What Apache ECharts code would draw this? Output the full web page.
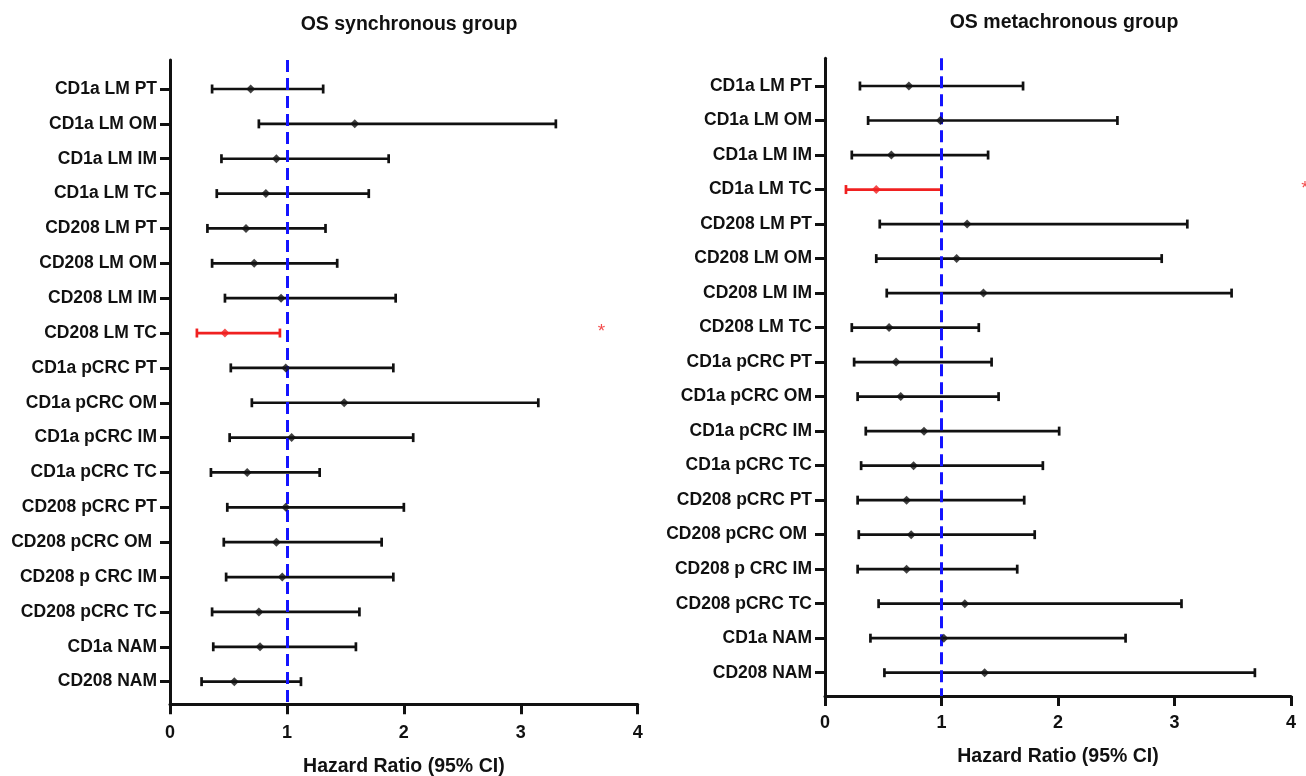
<!DOCTYPE html>
<html>
<head>
<meta charset="utf-8">
<script src="https://cdn.jsdelivr.net/npm/echarts@6/dist/echarts.min.js"></script>
<style>
  html, body { margin: 0; padding: 0; background: #fff; }
  #chart { width: 1306px; height: 776px; }
</style>
</head>
<body>
<div id="chart"></div>
<script>
// ---- data ----
const categories = ['CD1a LM PT','CD1a LM OM','CD1a LM IM','CD1a LM TC','CD208 LM PT','CD208 LM OM','CD208 LM IM','CD208 LM TC','CD1a pCRC PT','CD1a pCRC OM','CD1a pCRC IM','CD1a pCRC TC','CD208 pCRC PT','CD208 pCRC OM ','CD208 p CRC IM','CD208 pCRC TC','CD1a NAM','CD208 NAM'];
const xTicks = [0, 1, 2, 3, 4];

const syncHR   = [0.69,1.58,0.91,0.82,0.65,0.72,0.95,0.47,0.99,1.49,1.04,0.66,0.99,0.91,0.96,0.76,0.77,0.55];
const syncLow  = [0.36,0.76,0.44,0.40,0.32,0.36,0.47,0.23,0.52,0.70,0.51,0.35,0.49,0.46,0.48,0.36,0.37,0.27];
const syncHigh = [1.31,3.30,1.87,1.70,1.33,1.43,1.93,0.94,1.91,3.15,2.08,1.28,2.00,1.81,1.91,1.62,1.59,1.12];
const syncSig  = [0,0,0,0,0,0,0,1,0,0,0,0,0,0,0,0,0,0];
const syncStar = [[3.69, 8]];

const metaHR   = [0.72,0.99,0.57,0.44,1.22,1.13,1.36,0.55,0.61,0.65,0.85,0.76,0.70,0.74,0.70,1.20,1.02,1.37];
const metaLow  = [0.30,0.37,0.23,0.18,0.47,0.44,0.53,0.23,0.25,0.28,0.35,0.31,0.28,0.29,0.28,0.46,0.39,0.51];
const metaHigh = [1.70,2.51,1.40,1.00,3.11,2.89,3.49,1.32,1.43,1.49,2.01,1.87,1.71,1.80,1.65,3.06,2.58,3.69];
const metaSig  = [0,0,0,1,0,0,0,0,0,0,0,0,0,0,0,0,0,0];
const metaStar = [[4.12, 4]];

const refLine = 1;

// ---- styles ----
const FONT = "'Liberation Sans', Arial, Helvetica, sans-serif";
const BLACK = '#111111';
const RED = '#f02020';
const BLUE = '#1414ff';
const rows = categories.map((c, i) => i + 1);

function yAxisCfg(gridIndex, min, max) {
  return {
    type: 'value', gridIndex: gridIndex, inverse: true, min: min, max: max,
    splitLine: { show: false },
    axisLine: { show: true, lineStyle: { color: BLACK, width: 3 } },
    axisTick: { show: true, length: 10, lineStyle: { color: BLACK, width: 3 }, customValues: rows },
    axisLabel: {
      show: true, customValues: rows, margin: 13,
      formatter: v => categories[Math.round(v) - 1] || '',
      fontFamily: FONT, fontWeight: 'bold', fontSize: 17.5, color: BLACK
    }
  };
}
function xAxisCfg(gridIndex, labelMargin, nameGap) {
  return {
    type: 'value', gridIndex: gridIndex, min: xTicks[0], max: xTicks[xTicks.length - 1], interval: 1,
    splitLine: { show: false },
    axisLine: { show: true, lineStyle: { color: BLACK, width: 3 } },
    axisTick: { show: true, length: 10, lineStyle: { color: BLACK, width: 3 } },
    axisLabel: { margin: labelMargin, fontFamily: FONT, fontWeight: 'bold', fontSize: 18, color: BLACK },
    name: 'Hazard Ratio (95% CI)', nameLocation: 'middle', nameGap: nameGap,
    nameTextStyle: { fontFamily: FONT, fontWeight: 'bold', fontSize: 19.5, color: BLACK }
  };
}

function barData(low, high, sig) {
  return low.map((l, i) => [l, high[i], i + 1, sig[i]]);
}
function pointData(hr, sig) {
  return hr.map((v, i) => ({ value: [v, i + 1], itemStyle: { color: sig[i] ? RED : BLACK } }));
}
function renderBar(params, api) {
  const lo = api.coord([api.value(0), api.value(2)]);
  const hi = api.coord([api.value(1), api.value(2)]);
  const col = api.value(3) ? RED : BLACK;
  const h = 4.5;
  const style = { stroke: col, lineWidth: 2.7 };
  return {
    type: 'group',
    children: [
      { type: 'line', shape: { x1: lo[0], y1: lo[1], x2: hi[0], y2: hi[1] }, style: style },
      { type: 'line', shape: { x1: lo[0], y1: lo[1] - h, x2: lo[0], y2: lo[1] + h }, style: style },
      { type: 'line', shape: { x1: hi[0], y1: hi[1] - h, x2: hi[0], y2: hi[1] + h }, style: style }
    ]
  };
}
function panelSeries(idx, low, high, hr, sig, star) {
  return [
    {
      type: 'custom', xAxisIndex: idx, yAxisIndex: idx, renderItem: renderBar,
      data: barData(low, high, sig), z: 2, silent: true
    },
    {
      type: 'scatter', xAxisIndex: idx, yAxisIndex: idx, symbol: 'diamond', symbolSize: 9,
      data: pointData(hr, sig), z: 4, silent: true,
      markLine: {
        silent: true, symbol: 'none', z: 3,
        label: { show: false },
        lineStyle: { color: BLUE, width: 3, type: [12, 6] },
        data: [{ xAxis: refLine }]
      }
    },
    {
      type: 'scatter', xAxisIndex: idx, yAxisIndex: idx, symbolSize: 0, clip: false, silent: true,
      data: star,
      label: { show: true, formatter: '*', color: RED, fontSize: 19, fontFamily: FONT, position: 'inside', offset: [0, -1] }
    }
  ];
}

const option = {
  backgroundColor: '#ffffff',
  animation: false,
  title: [
    { text: 'OS synchronous group', left: 404, top: 10, textAlign: 'center',
      textStyle: { fontFamily: FONT, fontWeight: 'bold', fontSize: 19.5, color: BLACK } },
    { text: 'OS metachronous group', left: 1059, top: 8, textAlign: 'center',
      textStyle: { fontFamily: FONT, fontWeight: 'bold', fontSize: 19.5, color: BLACK } }
  ],
  grid: [
    { left: 170, top: 60, width: 467.7, height: 644.3, containLabel: false, outerBoundsMode: 'none' },
    { left: 825, top: 58.3, width: 466, height: 637.7, containLabel: false, outerBoundsMode: 'none' }
  ],
  xAxis: [xAxisCfg(0, 19.5, 52.5), xAxisCfg(1, 18, 51)],
  yAxis: [yAxisCfg(0, 0.168, 18.65), yAxisCfg(1, 0.197, 18.675)],
  series: [].concat(
    panelSeries(0, syncLow, syncHigh, syncHR, syncSig, syncStar),
    panelSeries(1, metaLow, metaHigh, metaHR, metaSig, metaStar)
  )
};

const chart = echarts.init(document.getElementById('chart'), null, { renderer: 'canvas' });
chart.setOption(option);
</script>
</body>
</html>
